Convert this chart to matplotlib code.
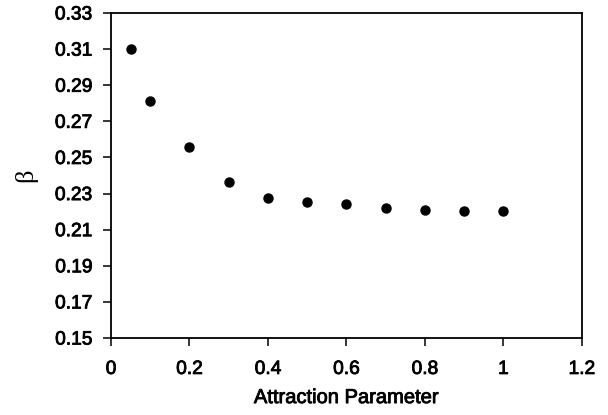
import matplotlib

matplotlib.use("Agg")
import matplotlib.pyplot as plt
import matplotlib.patheffects as pe

plt.rcParams["font.family"] = ["Liberation Sans", "DejaVu Sans"]

attraction = [0.05, 0.1, 0.2, 0.3, 0.4, 0.5, 0.6, 0.7, 0.8, 0.9, 1.0]
beta = [0.310, 0.281, 0.2556, 0.2362, 0.2275, 0.2255, 0.2244, 0.2218, 0.2210, 0.2203, 0.2203]

x_ticks = [0, 0.2, 0.4, 0.6, 0.8, 1.0, 1.2]
x_tick_labels = ["0", "0.2", "0.4", "0.6", "0.8", "1", "1.2"]
y_ticks = [0.15, 0.17, 0.19, 0.21, 0.23, 0.25, 0.27, 0.29, 0.31, 0.33]

# scanned figure text looks heavier than regular Arial
heavy = [pe.withStroke(linewidth=0.6, foreground="black")]

fig = plt.figure(figsize=(6.08, 4.15), dpi=100)
ax = fig.add_axes([0.1826, 0.1855, 0.7744, 0.7832])

ax.plot(attraction, beta, "o", color="black", markersize=6.5, linestyle="none")

ax.set_xlim(0, 1.2)
ax.set_ylim(0.15, 0.33)
ax.set_xticks(x_ticks)
ax.set_xticklabels(x_tick_labels)
ax.set_yticks(y_ticks)
ax.set_yticklabels([f"{v:.2f}" for v in y_ticks])

for side in ("left", "right", "top", "bottom"):
    ax.spines[side].set_linewidth(1.3)
ax.tick_params(direction="out", length=5.5, width=1.1, labelsize=13.8)
ax.tick_params(axis="x", pad=11)
ax.tick_params(axis="y", pad=8)
for lab in ax.get_xticklabels() + ax.get_yticklabels():
    lab.set_path_effects(heavy)

xl = ax.set_xlabel("Attraction Parameter", fontsize=14.5)
xl.set_path_effects(heavy)
ax.xaxis.set_label_coords(0.5, -0.154)
ax.set_ylabel("β", fontsize=19, family=["Liberation Serif", "DejaVu Serif"])
ax.yaxis.set_label_coords(-0.157, 0.5)

fig.savefig("out.png", dpi=100)
